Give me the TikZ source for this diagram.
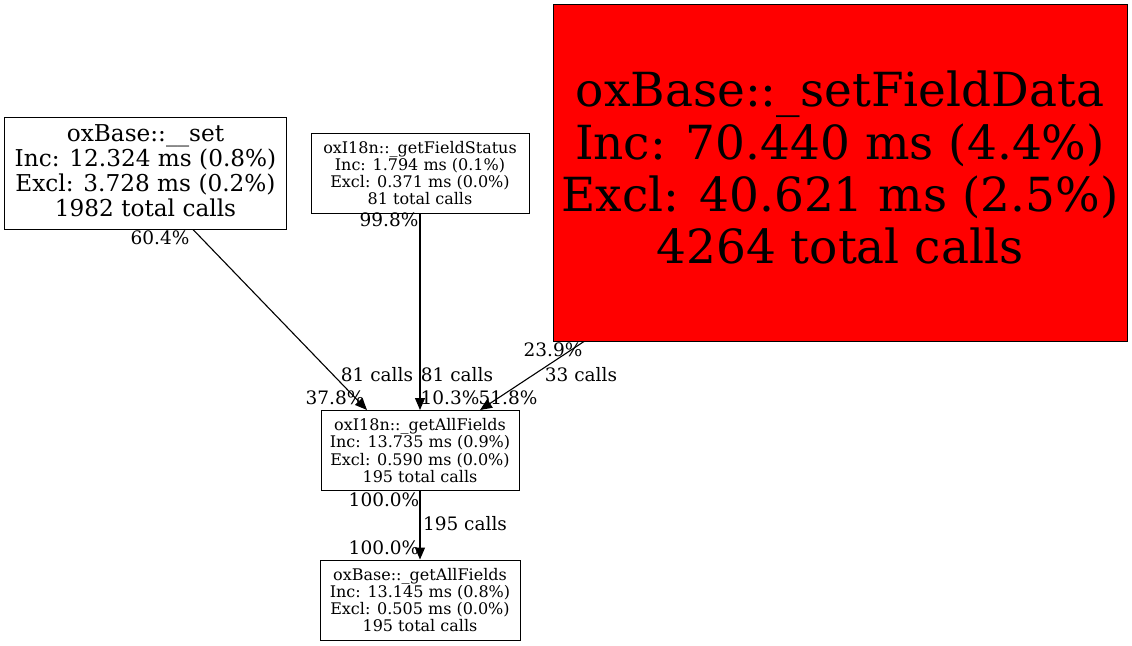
\documentclass[tikz,border=0pt]{standalone}
\usepackage{fontspec}
\setmainfont{DejaVu Serif}
\usetikzlibrary{arrows.meta}
\tikzset{
  fbox/.style={draw=black, line width=1pt, inner sep=0pt, align=center, rectangle},
  bigtxt/.style={font=\fontsize{47}{52.4}\selectfont, text depth=10pt},
  midtxt/.style={font=\fontsize{23.2}{25.3}\selectfont, text depth=5pt},
  smalltxt/.style={font=\fontsize{16}{17.2}\selectfont},
  lbl/.style={inner sep=0pt, font=\fontsize{18.5}{20}\selectfont},
  edge/.style={draw=black, line width=1.1pt, -{Triangle[length=12pt,width=10pt]}}
}
\begin{document}
\begin{tikzpicture}[x=1pt,y=-1pt]
\useasboundingbox[fill=white] (0,0) rectangle (1132,645);
% nodes
\node[fbox, midtxt, minimum width=282pt, minimum height=112pt] (set) at (145.5,173)
  {oxBase::\_\_set\\Inc: 12.324 ms (0.8\%)\\Excl: 3.728 ms (0.2\%)\\1982 total calls};
\node[fbox, smalltxt, minimum width=218pt, minimum height=80pt] (gfs) at (420,173)
  {oxI18n::\_getFieldStatus\\Inc: 1.794 ms (0.1\%)\\Excl: 0.371 ms (0.0\%)\\81 total calls};
\node[fbox, bigtxt, fill=red, minimum width=574pt, minimum height=337pt] (sfd) at (840,172.5)
  {oxBase::\_setFieldData\\Inc: 70.440 ms (4.4\%)\\Excl: 40.621 ms (2.5\%)\\4264 total calls};
\node[fbox, smalltxt, minimum width=198pt, minimum height=80pt] (gaf) at (420,450.5)
  {oxI18n::\_getAllFields\\Inc: 13.735 ms (0.9\%)\\Excl: 0.590 ms (0.0\%)\\195 total calls};
\node[fbox, smalltxt, minimum width=200pt, minimum height=80pt] (bgaf) at (420,600)
  {oxBase::\_getAllFields\\Inc: 13.145 ms (0.8\%)\\Excl: 0.505 ms (0.0\%)\\195 total calls};
% edges
\draw[edge] ([xshift=47.5pt]set.south) -- ([xshift=-53pt]gaf.north);
\draw[edge] (gfs.south) -- (gaf.north);
\draw[edge] ([xshift=-256pt]sfd.south) -- ([xshift=60pt]gaf.north);
\draw[edge] (gaf.south) -- (bgaf.north);
% labels
\node[lbl] (l1) at (160,238) {60.4\%};
\node[lbl] (l2) at (377,375) {81 calls};
\node[lbl] (l3) at (335,398) {37.8\%};
\node[lbl] (l4) at (389,220) {99.8\%};
\node[lbl] (l5) at (457,375) {81 calls};
\node[lbl] (l6) at (450,398) {10.3\%};
\node[lbl] (l7) at (553,350) {23.9\%};
\node[lbl] (l8) at (581,375) {33 calls};
\node[lbl] (l9) at (508,398) {51.8\%};
\node[lbl] (l10) at (384,500) {100.0\%};
\node[lbl] (l11) at (465,524) {195 calls};
\node[lbl] (l12) at (384,548) {100.0\%};
\end{tikzpicture}
\end{document}
